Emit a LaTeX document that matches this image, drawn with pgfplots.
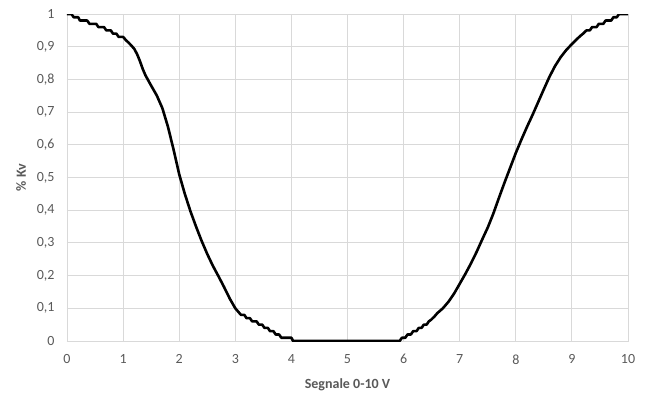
\documentclass[border=0pt]{standalone}
\usepackage{fontspec}
\setmainfont{Carlito}
\usepackage{pgfplots}
\pgfplotsset{compat=1.18}
\definecolor{gridc}{HTML}{D9D9D9}
\definecolor{txt}{HTML}{595959}
\begin{document}
\begin{tikzpicture}
\begin{axis}[
  scale only axis,
  width=561pt, height=327pt,
  xmin=0, xmax=10, ymin=0, ymax=1,
  xtick={0,1,...,10},
  ytick={0,0.1,...,1},
  grid=major,
  major grid style={gridc, line width=0.9pt},
  axis line style={gridc, line width=0.9pt},
  major tick length=0pt,
  tick label style={font=\fontsize{14}{16}\selectfont, color=txt},
  /pgf/number format/assume math mode=true,
  /pgf/number format/use comma,
  yticklabel style={xshift=-9pt},
  xticklabel style={yshift=-10pt},
  xlabel={\bfseries Segnale 0-10 V},
  ylabel={\bfseries \% Kv},
  label style={font=\fontsize{14}{16}\selectfont, color=txt},
  xlabel style={yshift=-8pt},
  ylabel style={yshift=4pt},
]
\addplot[black, line width=2.6pt, line join=round] table {
x y
0.00 1.00
0.08 1.00
0.12 0.99
0.20 0.99
0.23 0.98
0.36 0.98
0.40 0.97
0.52 0.97
0.56 0.96
0.66 0.96
0.70 0.95
0.78 0.95
0.82 0.94
0.88 0.94
0.92 0.93
1.00 0.93
1.05 0.92
1.10 0.912
1.15 0.903
1.20 0.893
1.25 0.877
1.30 0.856
1.35 0.832
1.40 0.812
1.50 0.781
1.60 0.751
1.70 0.712
1.80 0.655
1.90 0.585
2.00 0.51
2.10 0.45
2.20 0.397
2.30 0.35
2.40 0.306
2.50 0.266
2.60 0.23
2.70 0.198
2.80 0.165
2.90 0.13
3.00 0.10
3.05 0.09
3.10 0.08
3.16 0.08
3.20 0.07
3.26 0.07
3.30 0.06
3.38 0.06
3.42 0.05
3.48 0.05
3.52 0.04
3.58 0.04
3.62 0.03
3.68 0.03
3.72 0.02
3.78 0.02
3.82 0.01
4.00 0.01
4.03 0.00
5.93 0.00
5.97 0.01
6.03 0.01
6.07 0.02
6.13 0.02
6.17 0.03
6.23 0.03
6.27 0.04
6.32 0.04
6.36 0.05
6.41 0.05
6.45 0.06
6.49 0.065
6.55 0.075
6.60 0.085
6.70 0.10
6.80 0.12
6.90 0.145
7.00 0.175
7.10 0.205
7.20 0.237
7.30 0.272
7.40 0.31
7.50 0.347
7.60 0.39
7.70 0.438
7.80 0.485
7.90 0.53
8.00 0.575
8.10 0.616
8.20 0.655
8.30 0.692
8.40 0.731
8.50 0.77
8.60 0.808
8.70 0.841
8.80 0.868
8.90 0.89
9.00 0.908
9.10 0.925
9.15 0.933
9.20 0.94
9.26 0.95
9.32 0.95
9.36 0.96
9.44 0.96
9.48 0.97
9.56 0.97
9.60 0.98
9.70 0.98
9.74 0.99
9.80 0.99
9.84 1.00
10.00 1.00
};
\end{axis}
\useasboundingbox (-67pt,-59pt) rectangle (584pt,341pt);
\end{tikzpicture}
\end{document}
